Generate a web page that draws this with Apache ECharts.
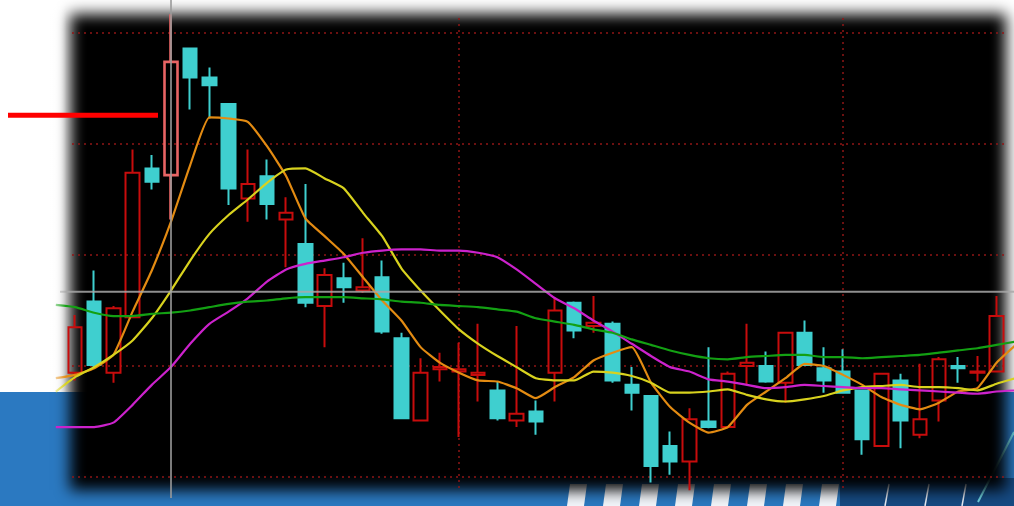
<!DOCTYPE html>
<html>
<head>
<meta charset="utf-8">
<script src="https://cdn.jsdelivr.net/npm/echarts@6/dist/echarts.min.js"></script>
<style>
html,body{margin:0;padding:0;background:#ffffff;overflow:hidden;}
#main{width:1014px;height:506px;filter:blur(0.45px);}
</style>
</head>
<body>
<div id="main"></div>
<script>
// ---- data ----
// categories: one padding slot before (-1) and after (49) the 49 visible sessions
const categories = Array.from({length: 51}, (_, k) => String(k - 1));

const opens  = [10.94, 11.58, 10.94, 11.44, 12.78, 12.72, 13.86, 13.60, 13.36, 12.51, 12.71, 12.32, 12.10, 11.54, 11.79, 11.68, 11.80, 11.25, 10.51, 10.97, 10.95, 10.92, 10.78, 10.51, 10.59, 10.94, 11.57, 11.36, 11.38, 10.83, 10.73, 10.28, 10.14, 10.50, 10.45, 11.00, 11.00, 10.85, 11.30, 10.98, 10.95, 10.78, 10.28, 10.87, 10.38, 10.69, 11.00, 10.94, 10.95];
const closes = [11.35, 11.01, 11.52, 12.74, 12.66, 13.74, 13.60, 13.53, 12.60, 12.64, 12.46, 12.38, 11.57, 11.82, 11.71, 11.71, 11.31, 10.53, 10.94, 10.99, 10.97, 10.94, 10.53, 10.57, 10.50, 11.50, 11.32, 11.39, 10.87, 10.76, 10.10, 10.14, 10.52, 10.45, 10.93, 11.03, 10.86, 11.30, 11.01, 10.87, 10.76, 10.34, 10.93, 10.51, 10.52, 11.06, 10.98, 10.95, 11.45];
const lows   = [10.87, 10.99, 10.85, 11.44, 12.59, 12.32, 13.31, 13.23, 12.45, 12.30, 12.32, 11.89, 11.53, 11.17, 11.57, 11.66, 11.29, 10.52, 10.50, 10.86, 10.36, 10.68, 10.51, 10.45, 10.38, 10.68, 11.25, 11.30, 10.85, 10.60, 9.95, 10.02, 9.88, 10.44, 10.44, 10.83, 10.85, 10.67, 11.01, 10.76, 10.75, 10.20, 10.28, 10.26, 10.35, 10.50, 10.85, 10.86, 10.95];
const highs  = [11.46, 11.86, 11.54, 12.95, 12.90, 14.17, 13.87, 13.69, 13.36, 12.95, 12.86, 12.52, 12.64, 11.88, 11.93, 12.15, 11.95, 11.30, 11.07, 11.12, 11.21, 11.38, 10.86, 11.36, 10.69, 11.62, 11.58, 11.63, 11.40, 10.99, 10.73, 10.41, 10.62, 11.17, 10.95, 11.38, 11.13, 11.30, 11.41, 11.17, 11.15, 10.78, 10.93, 10.93, 11.02, 11.08, 11.08, 11.09, 11.63];

// moving averages, one value per category (including the padding slots)
const maOrange  = [10.89, 10.92, 10.98, 11.10, 11.49, 11.86, 12.30, 12.81, 13.24, 13.23, 13.20, 12.98, 12.71, 12.33, 12.17, 12.01, 11.80, 11.59, 11.41, 11.17, 11.03, 10.94, 10.87, 10.86, 10.80, 10.71, 10.81, 10.90, 11.05, 11.12, 11.17, 10.85, 10.63, 10.49, 10.40, 10.45, 10.65, 10.77, 10.89, 11.02, 11.00, 10.92, 10.83, 10.72, 10.65, 10.61, 10.67, 10.77, 10.80, 11.03, 11.19];
const maYellow  = [10.77, 10.90, 10.99, 11.10, 11.23, 11.43, 11.68, 11.95, 12.19, 12.36, 12.50, 12.65, 12.77, 12.78, 12.69, 12.60, 12.38, 12.17, 11.88, 11.68, 11.50, 11.33, 11.20, 11.09, 10.99, 10.89, 10.87, 10.87, 10.95, 10.94, 10.91, 10.85, 10.76, 10.76, 10.77, 10.79, 10.74, 10.70, 10.68, 10.70, 10.73, 10.78, 10.81, 10.82, 10.83, 10.81, 10.81, 10.80, 10.78, 10.84, 10.89];
const maMagenta = [10.45, 10.45, 10.45, 10.49, 10.65, 10.83, 10.99, 11.20, 11.38, 11.49, 11.61, 11.76, 11.87, 11.92, 11.95, 11.98, 12.02, 12.04, 12.05, 12.05, 12.04, 12.04, 12.02, 11.98, 11.87, 11.74, 11.61, 11.52, 11.41, 11.31, 11.20, 11.09, 10.99, 10.95, 10.88, 10.86, 10.83, 10.80, 10.81, 10.83, 10.82, 10.81, 10.80, 10.80, 10.79, 10.78, 10.77, 10.76, 10.75, 10.77, 10.78];
const maGreen   = [11.55, 11.53, 11.48, 11.45, 11.45, 11.47, 11.48, 11.50, 11.53, 11.56, 11.58, 11.59, 11.61, 11.62, 11.62, 11.62, 11.61, 11.60, 11.58, 11.57, 11.55, 11.54, 11.53, 11.51, 11.49, 11.43, 11.40, 11.37, 11.33, 11.30, 11.24, 11.19, 11.14, 11.10, 11.07, 11.06, 11.08, 11.09, 11.10, 11.10, 11.08, 11.08, 11.07, 11.08, 11.09, 11.10, 11.12, 11.14, 11.16, 11.19, 11.22];

const gridValues = [10, 11, 12, 13, 14];     // dotted horizontal grid levels
const gridSessions = [20, 40];              // dotted vertical grid sessions
const crossSession = 5;                     // crosshair session
const crossValue = 11.67;                   // crosshair price
const markerValue = 13.26;                  // red pointer level
const selectedSession = 5;                  // highlighted candle

// ---- build ----
const OFFSET = 1; // category index of session 0
const candleData = categories.map((c, k) => {
  const i = k - OFFSET;
  if (i < 0 || i >= opens.length) return '-';
  const v = [opens[i], closes[i], lows[i], highs[i]];
  if (i === selectedSession) {
    return {value: v, itemStyle: {borderColor: '#e86464', color: 'rgba(0,0,0,0)', borderWidth: 2.6}};
  }
  return v;
});

const chart = echarts.init(document.getElementById('main'), null, {renderer: 'canvas'});

function maSeries(data, color) {
  return {
    type: 'line', data: data, symbol: 'none', showSymbol: false, smooth: 0.15,
    lineStyle: {color: color, width: 2.2}, z: 11, silent: true,
    emphasis: {disabled: true}
  };
}

const option = {
  animation: false,
  backgroundColor: '#ffffff',
  grid: {left: 46.2, top: 0, width: 979.2, height: 506, containLabel: false, outerBoundsMode: 'none'},
  xAxis: {type: 'category', data: categories, boundaryGap: true, show: false},
  yAxis: {type: 'value', min: 9.7387, max: 14.2973, show: false},
  series: [
    {
      type: 'candlestick', data: candleData, barWidth: 14, z: 10, silent: true,
      itemStyle: {
        color: 'rgba(0,0,0,0)', color0: '#3fcfcf',
        borderColor: '#c80c0c', borderColor0: '#3fcfcf', borderWidth: 2
      },
      emphasis: {disabled: true}
    },
    maSeries(maOrange, '#e38b12'),
    maSeries(maYellow, '#d8d21e'),
    maSeries(maMagenta, '#cc22cc'),
    maSeries(maGreen, '#13a013')
  ]
};
chart.setOption(option);

// ---- decorations positioned through the chart's own scales ----
const P = (session, v) => chart.convertToPixel({gridIndex: 0}, [session + OFFSET, v]);
const g = [];
// blue photo background band
g.push({type: 'rect', z: 1, shape: {x: 0, y: 392, width: 1014, height: 114}, style: {fill: '#2b79c1'}});
g.push({type: 'rect', z: 1, shape: {x: 840, y: 478, width: 174, height: 28}, style: {fill: '#164a82'}});
for (let k = 0; k < 8; k++) {
  const x = 567 + 36 * k;
  g.push({type: 'polygon', z: 2, shape: {points: [[x, 506], [x + 17, 506], [x + 20, 484], [x + 3, 484]]}, style: {fill: '#f2f5fa'}});
}
[885, 925, 962].forEach(x => {
  g.push({type: 'line', z: 2, shape: {x1: x, y1: 506, x2: x + 4, y2: 484}, style: {stroke: '#e8eef6', lineWidth: 1.5}});
});
g.push({type: 'line', z: 2, shape: {x1: 978, y1: 502, x2: 1014, y2: 432}, style: {stroke: '#6fd3e0', lineWidth: 2}});
// black screen panel (blurred edges via offset shadow)
const OFF = 3000;
g.push({type: 'rect', z: 3, shape: {x: 70 - OFF, y: 14, width: 936, height: 476},
  style: {fill: '#000', shadowBlur: 14, shadowColor: '#000', shadowOffsetX: OFF, shadowOffsetY: 0}});
// soft white fade over the far left edge (photo vignette)
g.push({type: 'rect', z: 14, shape: {x: 40, y: 0, width: 26, height: 392},
  style: {fill: new echarts.graphic.LinearGradient(0, 0, 1, 0, [
    {offset: 0, color: 'rgba(255,255,255,1)'}, {offset: 0.6, color: 'rgba(255,255,255,0.6)'}, {offset: 1, color: 'rgba(255,255,255,0)'}])}});
// dotted grid
gridValues.forEach(v => {
  const y = P(0, v)[1];
  g.push({type: 'line', z: 5, shape: {x1: 72, y1: y, x2: 1004, y2: y}, style: {stroke: '#8e1616', lineWidth: 1.5, lineDash: [2, 4]}});
});
gridSessions.forEach(s => {
  const x = P(s, 12)[0];
  g.push({type: 'line', z: 5, shape: {x1: x, y1: 18, x2: x, y2: 490}, style: {stroke: '#8e1616', lineWidth: 1.5, lineDash: [2, 4]}});
});
// crosshair
const cx = P(crossSession, crossValue);
g.push({type: 'line', z: 12, shape: {x1: cx[0], y1: 0, x2: cx[0], y2: 498}, style: {stroke: '#9a9a9a', lineWidth: 2, opacity: 0.8}});
g.push({type: 'line', z: 12, shape: {x1: 60, y1: cx[1], x2: 1014, y2: cx[1]}, style: {stroke: '#a8a8a8', lineWidth: 2, opacity: 0.85}});
// red pointer
const mk = P(selectedSession, markerValue);
g.push({type: 'line', z: 15, shape: {x1: 8, y1: mk[1], x2: mk[0] - 13, y2: mk[1]}, style: {stroke: '#ff0000', lineWidth: 5}});

chart.setOption({graphic: g});
</script>
</body>
</html>
